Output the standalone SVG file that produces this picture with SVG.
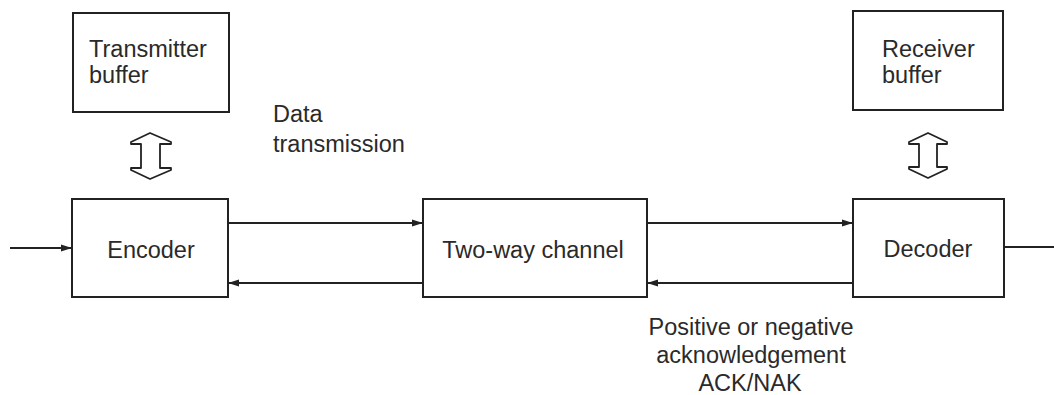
<svg xmlns="http://www.w3.org/2000/svg" width="1054" height="395" viewBox="0 0 1054 395">
<style>
.box{fill:#fff;stroke:#222;stroke-width:2}
.t{font-family:"Liberation Sans",Arial,sans-serif;font-size:23.5px;fill:#2a2a2a}
.c{text-anchor:middle}
.ln{fill:none;stroke:#222;stroke-width:2}
.dbl{fill:#fff;stroke:#222;stroke-width:1.8;stroke-linejoin:round}
</style>
<defs>
<marker id="ah" markerWidth="12" markerHeight="8" refX="11" refY="4" orient="auto" markerUnits="userSpaceOnUse">
<path d="M0,0.5 L11,4 L0,7.5 Z" fill="#222"/>
</marker>
</defs>
<rect width="1054" height="395" fill="#fff"/>
<g id="transmitter-buffer">
<rect class="box" x="73" y="13" width="156" height="99"/>
<text class="t" x="89" y="57">Transmitter</text>
<text class="t" x="89" y="83">buffer</text>
</g>
<g id="receiver-buffer">
<rect class="box" x="853" y="11" width="150" height="99"/>
<text class="t" x="882" y="57">Receiver</text>
<text class="t" x="882" y="83">buffer</text>
</g>
<g id="encoder">
<rect class="box" x="72" y="199" width="156" height="98"/>
<text class="t c" x="151" y="258">Encoder</text>
</g>
<g id="channel">
<rect class="box" x="423" y="199" width="224" height="98"/>
<text class="t c" x="533" y="258">Two-way channel</text>
</g>
<g id="decoder">
<rect class="box" x="853" y="199" width="151" height="98"/>
<text class="t c" x="928" y="257">Decoder</text>
</g>
<g id="connectors">
<line class="ln" x1="10" y1="248" x2="72" y2="248" marker-end="url(#ah)"/>
<line class="ln" x1="1004" y1="247" x2="1054" y2="247"/>
<line class="ln" x1="228" y1="223" x2="423" y2="223" marker-end="url(#ah)"/>
<line class="ln" x1="423" y1="283" x2="228" y2="283" marker-end="url(#ah)"/>
<line class="ln" x1="647" y1="223" x2="853" y2="223" marker-end="url(#ah)"/>
<line class="ln" x1="853" y1="283" x2="647" y2="283" marker-end="url(#ah)"/>
<polygon class="dbl" points="150,133 171,142 171,144 160,144 160,168 171,168 171,170 150,179 131,170 131,168 141,168 141,144 131,144 131,142"/>
<polygon class="dbl" points="928,133 947,142 947,144 937,144 937,167 947,167 947,169 928,178 909,169 909,167 919,167 919,144 909,144 909,142"/>
</g>
<g id="labels">
<text class="t" x="273" y="122">Data</text>
<text class="t" x="273" y="152">transmission</text>
<text class="t c" x="751" y="335">Positive or negative</text>
<text class="t c" x="751" y="363">acknowledgement</text>
<text class="t c" x="750" y="391">ACK/NAK</text>
</g>
</svg>
